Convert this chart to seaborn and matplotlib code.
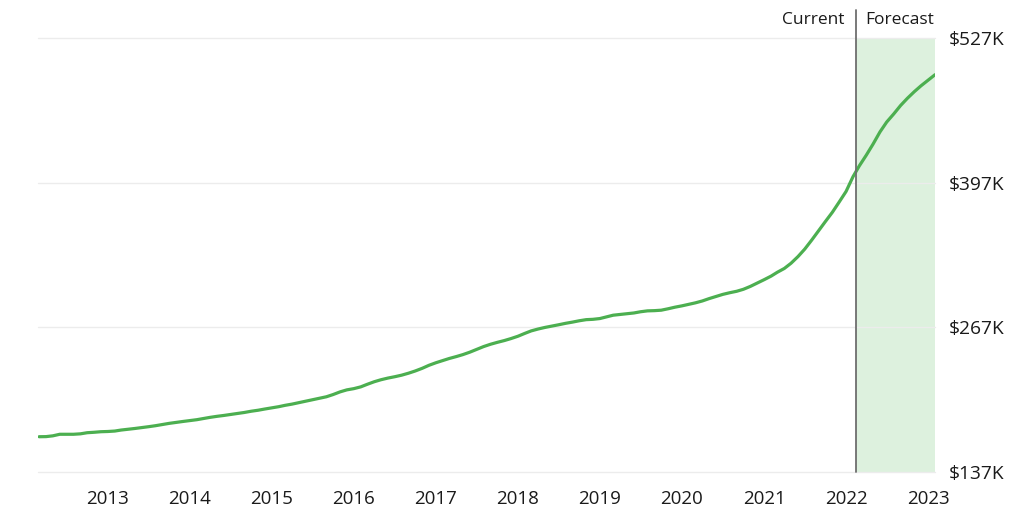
import numpy as np
import pandas as pd
import matplotlib
matplotlib.use("Agg")
import matplotlib.pyplot as plt
import matplotlib.dates as mdates
import seaborn as sns

# ---- data (home value index, $K), monthly Mar 2012 - Feb 2023 ----
start_month = "2012-03-01"
values = [
    168.7, 168.8, 169.5, 170.9, 170.9, 170.9, 171.3, 172.3, 172.7, 173.2,
    173.4, 173.8, 174.7, 175.4, 176.1, 176.9, 177.7, 178.6, 179.7, 180.7,
    181.6, 182.4, 183.2, 184.0, 185.0, 186.1, 187.0, 187.8, 188.7, 189.6,
    190.5, 191.6, 192.5, 193.6, 194.6, 195.7, 196.9, 198.0, 199.3, 200.6,
    201.9, 203.3, 204.6, 206.6, 209.0, 210.8, 211.9, 213.5, 215.8, 218.1,
    219.9, 221.4, 222.6, 224.0, 225.8, 227.8, 230.2, 232.9, 235.2, 237.2,
    239.0, 240.7, 242.5, 244.7, 247.2, 249.7, 251.8, 253.5, 255.1, 256.9,
    259.0, 261.6, 263.8, 265.5, 266.9, 268.1, 269.3, 270.6, 271.7, 272.9,
    273.9, 274.2, 274.9, 276.5, 277.9, 278.6, 279.2, 279.9, 281.0, 281.8,
    282.0, 282.4, 283.7, 285.1, 286.3, 287.7, 289.0, 290.7, 292.8, 294.7,
    296.6, 298.1, 299.4, 301.2, 303.8, 306.7, 309.8, 313.0, 316.5, 319.9,
    324.6, 330.6, 337.3, 345.4, 353.9, 362.1, 370.4, 379.5, 389.1, 402.4,
    412.1, 421.7, 431.6, 442.6, 451.5, 458.7, 466.4, 472.8, 478.8, 484.1,
    489.1, 494.0,
]
y_ticks = [137, 267, 397, 527]
y_tick_labels = ["$137K", "$267K", "$397K", "$527K"]
x_years = list(range(2013, 2024))
current_date = "2022-02-15"
header_left = "Current"
header_right = "Forecast"

dates = pd.date_range(start_month, periods=len(values), freq="MS")
df = pd.DataFrame({"date": dates, "value": values})

# ---- styling ----
sns.set_theme(style="white")
plt.rcParams["font.family"] = ["Open Sans", "DejaVu Sans"]

LINE = "#4caf50"
SHADE = "#ddf1de"
VLINE = "#6e6e6e"
GRID = "#ececec"
TEXT = "#1a1a1a"

fig = plt.figure(figsize=(10.24, 5.27), dpi=100)
ax = fig.add_axes([38 / 1024, 1 - 472 / 527, (935 - 38) / 1024, (472 - 38) / 527])

x_left = pd.Timestamp("2012-02-25")
x_right = pd.Timestamp("2023-02-01")
cur = pd.Timestamp(current_date)

ax.axvspan(cur, x_right, color=SHADE, lw=0, zorder=0)
for yv in y_ticks:
    ax.axhline(yv, color=GRID, lw=1.0, zorder=1, clip_on=False)

sns.lineplot(data=df, x="date", y="value", ax=ax, color=LINE, lw=2.3, zorder=3)

ax.axvline(cur, ymin=0, ymax=(472 - 10) / 434, color=VLINE, lw=1.3,
           clip_on=False, zorder=4)

ax.set_xlim(x_left, x_right)
ax.set_ylim(y_ticks[0], y_ticks[-1])

ax.set_yticks(y_ticks)
ax.set_yticklabels(y_tick_labels)
ax.yaxis.tick_right()
ax.tick_params(axis="y", length=0, pad=10, labelsize=13.8, labelcolor=TEXT)

ax.set_xticks([pd.Timestamp(f"{y}-01-01") for y in x_years])
ax.set_xticklabels([str(y) for y in x_years])
ax.tick_params(axis="x", length=0, pad=13, labelsize=13.5, labelcolor=TEXT)

ax.set_xlabel("")
ax.set_ylabel("")
for s in ax.spines.values():
    s.set_visible(False)
ax.grid(False)

ty = (472 - 19.5) / 434
ax.text(cur - pd.Timedelta(days=50), ty, header_left, transform=ax.get_xaxis_transform(),
        ha="right", va="center", fontsize=12.5, color=TEXT)
ax.text(cur + pd.Timedelta(days=40), ty, header_right, transform=ax.get_xaxis_transform(),
        ha="left", va="center", fontsize=12.5, color=TEXT)

fig.savefig("out.png", dpi=100, facecolor="white")
